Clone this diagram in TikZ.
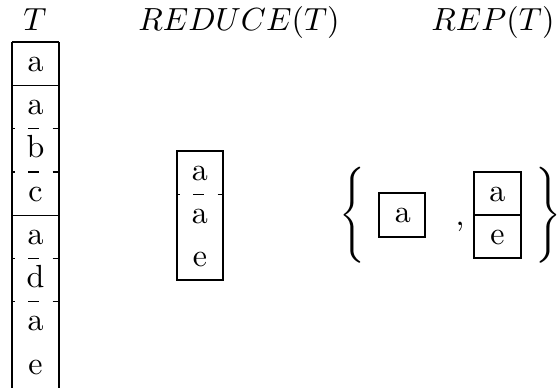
\documentclass[tikz,border=0pt]{standalone}
\tikzset{
  letter/.style={anchor=base,inner sep=0pt},
  cut/.style={dash pattern=on 3.4pt off 4.2pt,dash phase=2.5pt},
}
\begin{document}
\begin{tikzpicture}[x=0.3125pt,y=-0.3125pt,line width=0.4pt]
\useasboundingbox (0,0) rectangle (560,388);
% Width and height of one cell, drop from cell centre to baseline
\def\w{47}
\def\h{43.3}
\def\d{7.5}

% Titles
\node[letter] (titleT) at (35,30) {$T$};
\node[letter] (titleRed) at (239,30) {$REDUCE(T)$};
\node[letter] (titleRep) at (493,30) {$REP(T)$};

% The text T, open at the bottom
\coordinate (Ttop) at (12,42);
\draw (Ttop) -- +(0,346);
\draw (Ttop) ++(\w,0) -- +(0,346);
\draw (Ttop) -- +(\w,0);
\foreach \k/\s in {1/solid,2/cut,3/cut,4/solid,5/cut,6/cut}
  \draw[\s] (Ttop) ++(0,\k*\h) -- +(\w,0);
\foreach \c [count=\i from 0] in {a,a,b,c,a,d,a,e}
  \node[letter] (T\i) at ({12+\w/2},{42+(\i+0.5)*\h+\d}) {\c};

% REDUCE(T)
\coordinate (Rtop) at (177,151);
\draw (Rtop) rectangle +(46,129);
\draw[cut] (Rtop) ++(0,\h) -- +(46,0);
\foreach \c [count=\i from 0] in {a,a,e}
  \node[letter] (R\i) at (200,{151+(\i+0.5)*\h+\d}) {\c};

% REP(T): a set of two pieces
\node (open) at (352,215) {$\Bigg\{$};
\draw (379,193) rectangle (425,237);
\node[letter] (P1) at (403,{215+\d}) {a};
\node[letter] (comma) at (460,225) {,};
\draw (474,172) rectangle (521,258);
\draw (474,215) -- (521,215);
\node[letter] (P2) at (497.5,{193.5+\d}) {a};
\node[letter] (P3) at (497.5,{236.5+\d}) {e};
\node (close) at (548,215) {$\Bigg\}$};
\end{tikzpicture}
\end{document}
